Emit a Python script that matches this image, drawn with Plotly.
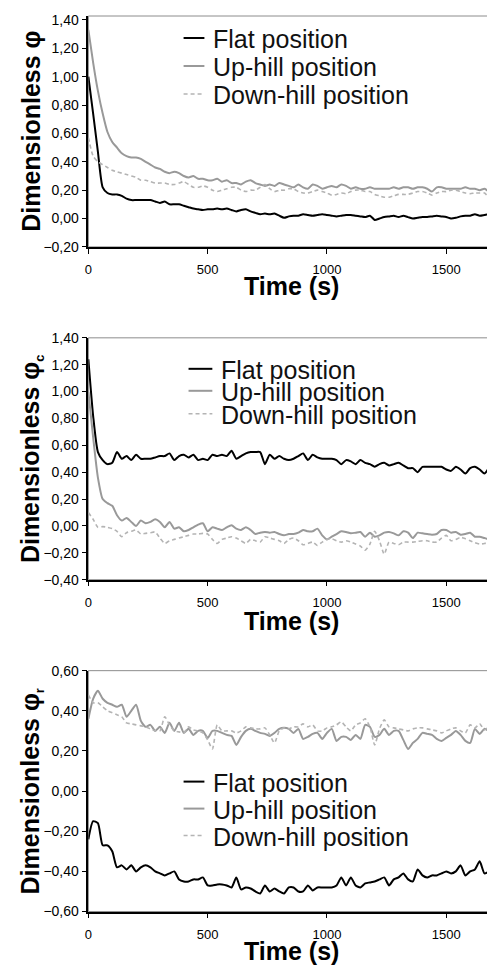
import plotly.graph_objects as go

# time axis (s), one reading every 20 s
time_s = list(range(0, 1701, 20))

# panel 1: dimensionless phi
flat_phi = [1.00, 0.74, 0.47, 0.22, 0.18, 0.17, 0.17, 0.16, 0.14, 0.13, 0.13, 0.13, 0.13, 0.13, 0.12, 0.11, 0.12,
            0.10, 0.10, 0.10, 0.09, 0.08, 0.07, 0.065, 0.06, 0.065, 0.065, 0.07, 0.065, 0.07, 0.06, 0.05, 0.06,
            0.065, 0.05, 0.04, 0.03, 0.035, 0.03, 0.035, 0.02, 0.005, 0.015, 0.02, 0.02, 0.03, 0.025, 0.02, 0.025,
            0.03, 0.025, 0.02, 0.015, 0.02, 0.025, 0.025, 0.02, 0.015, 0.01, 0.02, -0.01, 0.0, 0.01, 0.015, 0.02,
            0.01, 0.02, 0.01, 0.0, 0.005, 0.01, 0.01, 0.015, 0.02, 0.015, 0.01, 0.0, 0.005, 0.015, 0.02, 0.02,
            0.03, 0.02, 0.025, 0.03, 0.03]
up_phi = [1.33, 1.10, 0.90, 0.74, 0.61, 0.54, 0.50, 0.46, 0.44, 0.43, 0.43, 0.42, 0.40, 0.38, 0.36, 0.35, 0.33,
          0.32, 0.33, 0.32, 0.30, 0.29, 0.30, 0.28, 0.28, 0.27, 0.27, 0.28, 0.26, 0.27, 0.25, 0.25, 0.24, 0.26,
          0.27, 0.25, 0.24, 0.23, 0.24, 0.23, 0.25, 0.24, 0.23, 0.22, 0.24, 0.22, 0.21, 0.24, 0.23, 0.21, 0.22,
          0.23, 0.22, 0.24, 0.23, 0.21, 0.22, 0.21, 0.21, 0.22, 0.21, 0.21, 0.21, 0.21, 0.22, 0.21, 0.22, 0.22,
          0.21, 0.22, 0.22, 0.21, 0.19, 0.22, 0.22, 0.21, 0.21, 0.21, 0.21, 0.22, 0.21, 0.21, 0.20, 0.21, 0.19,
          0.20]
down_phi = [0.57, 0.44, 0.40, 0.38, 0.36, 0.34, 0.33, 0.32, 0.31, 0.30, 0.29, 0.27, 0.27, 0.26, 0.25, 0.25, 0.25,
            0.24, 0.24, 0.25, 0.26, 0.24, 0.22, 0.22, 0.23, 0.22, 0.20, 0.19, 0.20, 0.21, 0.22, 0.22, 0.20, 0.19,
            0.20, 0.20, 0.22, 0.24, 0.21, 0.19, 0.20, 0.20, 0.21, 0.21, 0.19, 0.18, 0.18, 0.19, 0.20, 0.19, 0.18,
            0.165, 0.17, 0.18, 0.175, 0.19, 0.20, 0.20, 0.19, 0.19, 0.17, 0.16, 0.15, 0.15, 0.16, 0.17, 0.17, 0.17,
            0.18, 0.19, 0.19, 0.18, 0.165, 0.18, 0.19, 0.19, 0.20, 0.20, 0.19, 0.18, 0.175, 0.18, 0.18, 0.18,
            0.15, 0.18]

# panel 2: dimensionless phi_c
flat_phic = [1.24, 0.82, 0.55, 0.49, 0.46, 0.47, 0.55, 0.50, 0.52, 0.49, 0.53, 0.50, 0.50, 0.50, 0.51, 0.52,
             0.52, 0.54, 0.49, 0.52, 0.53, 0.51, 0.53, 0.49, 0.50, 0.49, 0.53, 0.52, 0.53, 0.52, 0.56, 0.50, 0.52,
             0.54, 0.55, 0.55, 0.55, 0.46, 0.53, 0.50, 0.52, 0.50, 0.49, 0.50, 0.52, 0.54, 0.49, 0.53, 0.51, 0.50,
             0.50, 0.50, 0.49, 0.46, 0.49, 0.48, 0.46, 0.49, 0.47, 0.46, 0.44, 0.46, 0.47, 0.45, 0.46, 0.47, 0.45,
             0.43, 0.43, 0.40, 0.44, 0.44, 0.44, 0.44, 0.44, 0.42, 0.41, 0.44, 0.42, 0.39, 0.43, 0.44, 0.42, 0.39,
             0.43, 0.43]
up_phic = [1.00, 0.66, 0.36, 0.20, 0.17, 0.15, 0.08, 0.04, 0.06, 0.03, 0.00, 0.04, 0.02, 0.03, 0.05, 0.03, -0.01,
           0.03, -0.02, -0.01, -0.04, -0.03, -0.01, 0.01, 0.02, -0.04, -0.01, -0.02, -0.03, -0.01, 0.005, -0.02,
           -0.03, -0.01, -0.03, -0.06, -0.05, -0.045, -0.05, -0.045, -0.06, -0.07, -0.06, -0.06, -0.05, -0.03,
           -0.04, -0.04, -0.02, -0.07, -0.10, -0.08, -0.06, -0.04, -0.045, -0.055, -0.05, -0.045, -0.08, -0.05,
           -0.08, -0.07, -0.05, -0.045, -0.055, -0.07, -0.04, -0.05, -0.09, -0.05, -0.055, -0.06, -0.065, -0.06,
           -0.03, -0.03, -0.05, -0.045, -0.065, -0.06, -0.05, -0.08, -0.08, -0.09, -0.10, -0.095]
down_phic = [0.10, 0.05, -0.01, -0.005, -0.01, -0.02, -0.04, -0.08, -0.05, -0.04, -0.03, -0.06, -0.055, -0.05,
             -0.045, -0.09, -0.13, -0.11, -0.10, -0.09, -0.08, -0.07, -0.06, -0.06, -0.055, -0.06, -0.10, -0.13,
             -0.10, -0.09, -0.08, -0.09, -0.11, -0.13, -0.10, -0.11, -0.12, -0.08, -0.09, -0.10, -0.11, -0.13,
             -0.10, -0.09, -0.11, -0.14, -0.13, -0.12, -0.145, -0.12, -0.10, -0.095, -0.11, -0.12, -0.11, -0.12,
             -0.135, -0.15, -0.18, -0.135, -0.04, -0.11, -0.21, -0.12, -0.13, -0.14, -0.12, -0.12, -0.12, -0.115,
             -0.11, -0.11, -0.12, -0.12, -0.09, -0.07, -0.11, -0.10, -0.085, -0.095, -0.11, -0.125, -0.135, -0.13,
             -0.12, -0.095]

# panel 3: dimensionless phi_r
flat_phir = [-0.24, -0.15, -0.16, -0.27, -0.27, -0.30, -0.38, -0.37, -0.39, -0.37, -0.40, -0.38, -0.37, -0.38,
             -0.40, -0.41, -0.42, -0.41, -0.40, -0.44, -0.45, -0.45, -0.44, -0.44, -0.43, -0.47, -0.47, -0.465,
             -0.465, -0.47, -0.48, -0.43, -0.49, -0.48, -0.485, -0.50, -0.51, -0.47, -0.50, -0.485, -0.50, -0.51,
             -0.48, -0.48, -0.50, -0.50, -0.47, -0.495, -0.48, -0.48, -0.48, -0.48, -0.47, -0.43, -0.47, -0.43,
             -0.47, -0.48, -0.46, -0.455, -0.45, -0.44, -0.43, -0.47, -0.44, -0.43, -0.41, -0.44, -0.45, -0.39,
             -0.42, -0.43, -0.42, -0.42, -0.41, -0.40, -0.41, -0.40, -0.37, -0.42, -0.40, -0.39, -0.35, -0.41,
             -0.40, -0.39]
up_phir = [0.36, 0.46, 0.50, 0.46, 0.44, 0.43, 0.42, 0.43, 0.37, 0.40, 0.43, 0.35, 0.32, 0.33, 0.30, 0.32, 0.29,
           0.34, 0.30, 0.34, 0.29, 0.31, 0.28, 0.30, 0.30, 0.265, 0.30, 0.30, 0.29, 0.28, 0.275, 0.23, 0.27, 0.30,
           0.31, 0.30, 0.29, 0.285, 0.275, 0.29, 0.31, 0.315, 0.31, 0.29, 0.31, 0.26, 0.27, 0.285, 0.29, 0.26,
           0.29, 0.31, 0.25, 0.27, 0.27, 0.255, 0.28, 0.26, 0.33, 0.32, 0.27, 0.28, 0.31, 0.28, 0.30, 0.30, 0.255,
           0.21, 0.24, 0.26, 0.29, 0.285, 0.28, 0.26, 0.25, 0.265, 0.28, 0.30, 0.28, 0.25, 0.24, 0.31, 0.285,
           0.31, 0.30, 0.30]
down_phir = [0.48, 0.44, 0.44, 0.42, 0.40, 0.39, 0.38, 0.37, 0.34, 0.335, 0.33, 0.325, 0.32, 0.31, 0.30, 0.30,
             0.37, 0.33, 0.30, 0.295, 0.29, 0.32, 0.305, 0.30, 0.29, 0.255, 0.21, 0.33, 0.30, 0.30, 0.30, 0.29,
             0.30, 0.32, 0.315, 0.31, 0.31, 0.315, 0.28, 0.24, 0.30, 0.315, 0.31, 0.32, 0.32, 0.335, 0.32, 0.33,
             0.30, 0.30, 0.315, 0.32, 0.33, 0.345, 0.32, 0.30, 0.33, 0.34, 0.36, 0.32, 0.23, 0.31, 0.355, 0.32,
             0.315, 0.31, 0.305, 0.30, 0.31, 0.315, 0.315, 0.31, 0.305, 0.30, 0.29, 0.30, 0.31, 0.315, 0.30, 0.29,
             0.33, 0.315, 0.335, 0.305, 0.32, 0.31]

series_names = ['Flat position', 'Up-hill position', 'Down-hill position']
y_titles = ['Dimensionless φ',
            'Dimensionless φ<sub><span style="font-size:13px">c</span></sub>',
            'Dimensionless φ<sub><span style="font-size:13px">r</span></sub>']
y_ranges = [[-0.2, 1.428], [-0.4, 1.4], [-0.6, 0.6]]
panels = [[flat_phi, up_phi, down_phi], [flat_phic, up_phic, down_phic], [flat_phir, up_phir, down_phir]]

# where the figure lands in the photographed page: 8px in from the left,
# 17px down from the top and squeezed slightly in height
OFFX, OFFY, SY = 8, 17, 0.984
W, H = 495 - OFFX, 969
FONT = 'Arial, Liberation Sans, sans-serif'
styles = [dict(color='#000000', width=2),
          dict(color='#999999', width=2),
          dict(color='#b4b4b4', width=1.6, dash='4px,3px')]

# window pixel layout of each panel: plot area top/bottom, legend line x, legend rows, axis title y
plot_px = [(17, 248), (339, 581), (672, 913)]
legend_px = [(181, 202, 209, [39, 67, 95]),
             (186, 210, 217, [370, 392, 415]),
             (181, 202, 209, [783, 810, 837])]
xtitle_px = [287, 622, 952]
x_left, x_right = 85, 494


def px(v):
    return min(max((v - OFFX) / W, 0), 1)


def py(v):
    return min(max(1 - (v - OFFY) / SY / H, 0), 1)


fig = go.Figure()
shapes, annotations = [], []

for k in range(3):
    sfx = '' if k == 0 else str(k + 1)
    top, bot = plot_px[k]
    for name, vals, st in zip(series_names, panels[k], styles):
        fig.add_trace(go.Scatter(x=time_s, y=vals, mode='lines', name=name,
                                 line=dict(shape='spline', smoothing=0.6, **st),
                                 xaxis='x' + sfx, yaxis='y' + sfx, showlegend=False))

    fig.update_layout({
        'xaxis' + sfx: dict(domain=[px(x_left), px(x_right)], anchor='y' + sfx, range=[0, 1700], dtick=500, tick0=0,
                            ticks='outside', ticklen=5, tickcolor='#000', showline=True, linecolor='#000', linewidth=1.5,
                            showgrid=False, zeroline=False, tickfont=dict(family=FONT, size=13, color='#000'),
                            ticklabelstandoff=5),
        'yaxis' + sfx: dict(domain=[py(bot), py(top)], anchor='x' + sfx, range=y_ranges[k], dtick=0.2,
                            tick0=y_ranges[k][0], tickformat='.2f', ticks='outside', ticklen=5, tickcolor='#000',
                            showline=True, linecolor='#000', linewidth=1.5, showgrid=False, zeroline=False,
                            tickfont=dict(family=FONT, size=14, color='#000')),
    })

    # grey frame round the plot area
    shapes.append(dict(type='rect', xref='x' + sfx + ' domain', yref='y' + sfx + ' domain', x0=0, x1=1, y0=0, y1=1,
                       line=dict(color='#8c8c8c', width=1), layer='below'))

    # axis titles
    annotations.append(dict(x=px(27.5), y=py((top + bot) / 2), xref='paper', yref='paper', text=y_titles[k],
                            textangle=-90, showarrow=False, xanchor='center', yanchor='middle',
                            font=dict(family=FONT, size=25, color='#000', weight='bold')))
    annotations.append(dict(x=px((x_left + x_right) / 2), y=py(xtitle_px[k]), xref='paper', yref='paper',
                            text='Time (s)', showarrow=False, xanchor='center', yanchor='middle',
                            font=dict(family=FONT, size=25, color='#000', weight='bold')))

    # legend drawn by hand
    lx0, lx1, tx, rows = legend_px[k]
    for name, st, ry in zip(series_names, styles, rows):
        shapes.append(dict(type='line', xref='paper', yref='paper', x0=px(lx0), x1=px(lx1), y0=py(ry), y1=py(ry),
                           line=st))
        annotations.append(dict(x=px(tx), y=py(ry + 1), xref='paper', yref='paper', text=name, showarrow=False,
                                xanchor='left', yanchor='middle', font=dict(family=FONT, size=25, color='#111')))

fig.update_layout(width=W, height=H, margin=dict(l=0, r=0, t=0, b=0), separators=', ',
                  plot_bgcolor='white', paper_bgcolor='white', showlegend=False,
                  shapes=shapes, annotations=annotations)

fig.write_html("out.html")
